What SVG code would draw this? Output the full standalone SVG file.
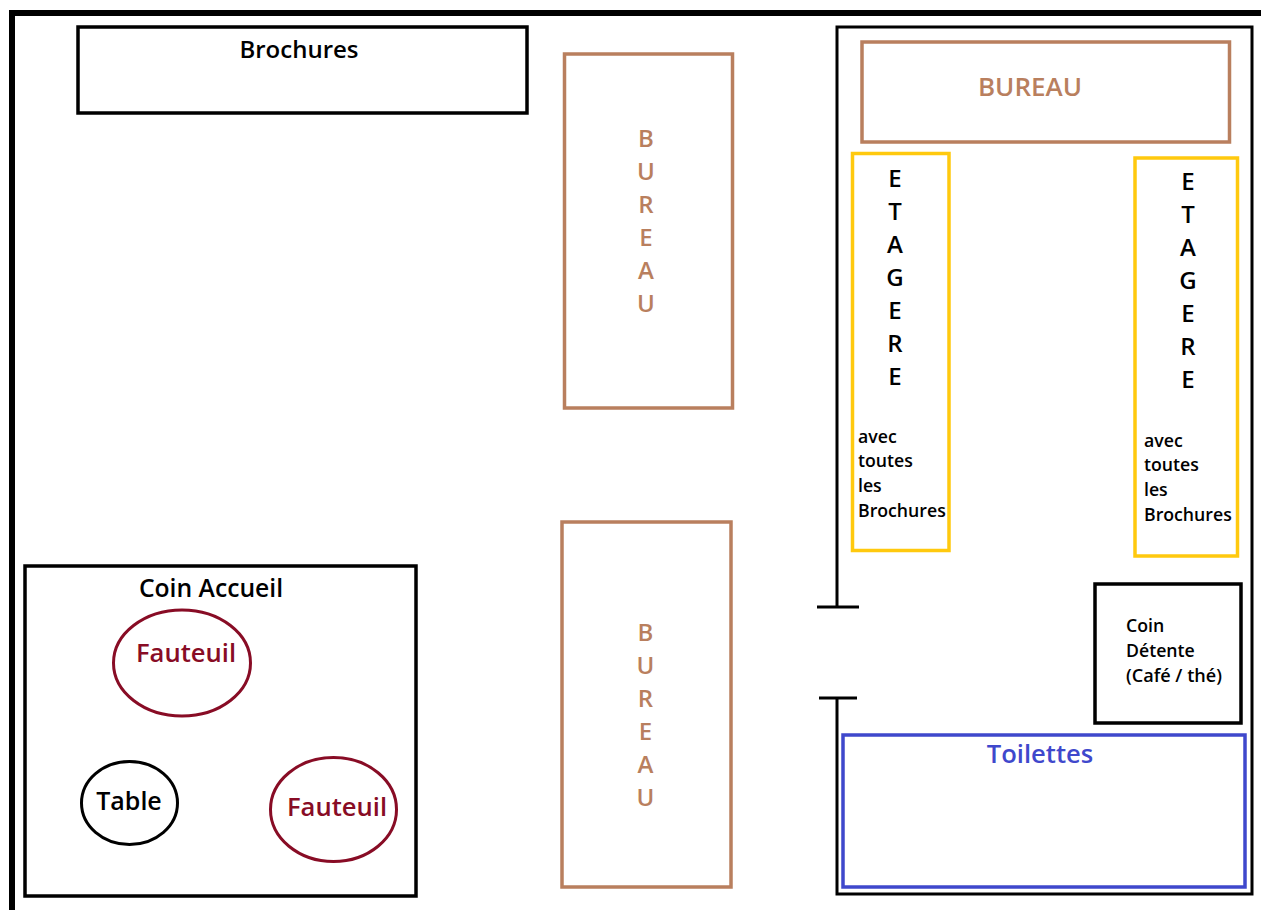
<svg xmlns="http://www.w3.org/2000/svg" width="1261" height="910" viewBox="0 0 1261 910">
<style>
text{font-family:"Open Sans","Noto Sans","Liberation Sans",sans-serif;font-weight:600;font-size:24px;fill:#000}
.m{text-anchor:middle}
.s{font-size:17.7px}
.l{font-size:25.6px}
.br{fill:#b97f5e}
.re{fill:#880c25}
.k{stroke:#000;stroke-width:3.5;fill:#fff}
.b{stroke:#b97f5e;stroke-width:3.5;fill:#fff}
.y{stroke:#ffc90e;stroke-width:3.5;fill:#fff}
.d{stroke:#880c25;stroke-width:3;fill:#fff}
.w{stroke:#000;stroke-width:3;fill:none}
</style>
<rect width="1261" height="910" fill="#fff"/>
<g id="connectors">
<path d="M12 910V13H1261" fill="none" stroke="#000" stroke-width="6"/>
<path class="w" d="M817 607H859M837 607V27H1252V894H837V698M819 698H857"/>
</g>
<g id="brochures"><rect class="k" x="78" y="27" width="449" height="86"/><text class="m" x="299" y="58">Brochures</text></g>
<g id="bureau-1"><rect class="b" x="564.500" y="54" width="168" height="354"/>
<text class="m br" x="646" y="146.500">B</text><text class="m br" x="646" y="179.500">U</text><text class="m br" x="646" y="213">R</text><text class="m br" x="646" y="246">E</text><text class="m br" x="646" y="279">A</text><text class="m br" x="646" y="312">U</text></g>
<g id="bureau-2"><rect class="b" x="562" y="522" width="169" height="365"/>
<text class="m br" x="645.500" y="640.500">B</text><text class="m br" x="645.500" y="673.500">U</text><text class="m br" x="645.500" y="707">R</text><text class="m br" x="645.500" y="740">E</text><text class="m br" x="645.500" y="773">A</text><text class="m br" x="645.500" y="806">U</text></g>
<g id="bureau-3"><rect class="b" x="862" y="42" width="367.500" height="100"/><text class="m br" x="1030" y="96" font-size="26" style="font-size:26px">BUREAU</text></g>
<g id="etagere-1"><rect class="y" x="852.500" y="153.500" width="96.500" height="397"/>
<text class="m" x="895" y="187">E</text><text class="m" x="895" y="220">T</text><text class="m" x="895" y="253">A</text><text class="m" x="895" y="286">G</text><text class="m" x="895" y="319">E</text><text class="m" x="895" y="352">R</text><text class="m" x="895" y="385">E</text>
<text class="s" x="858" y="443">avec</text><text class="s" x="858" y="467">toutes</text><text class="s" x="858" y="492">les</text><text class="s" x="858" y="516.500">Brochures</text></g>
<g id="etagere-2"><rect class="y" x="1135" y="158" width="102.500" height="398"/>
<text class="m" x="1188" y="190">E</text><text class="m" x="1188" y="223">T</text><text class="m" x="1188" y="256">A</text><text class="m" x="1188" y="289">G</text><text class="m" x="1188" y="322">E</text><text class="m" x="1188" y="355">R</text><text class="m" x="1188" y="388">E</text>
<text class="s" x="1144" y="447">avec</text><text class="s" x="1144" y="471">toutes</text><text class="s" x="1144" y="496">les</text><text class="s" x="1144" y="520.500">Brochures</text></g>
<g id="coin-detente"><rect class="k" x="1095" y="584" width="146" height="139"/><text class="s" x="1126" y="631.500">Coin</text><text class="s" x="1126" y="656.500">Détente</text><text x="1126" y="681.500" style="font-size:18.1px">(Café / thé)</text></g>
<g id="toilettes"><rect x="843" y="735" width="402" height="152" fill="#fff" stroke="#3f48cc" stroke-width="3.500"/><text class="m l" x="1040" y="763" style="fill:#3f48cc">Toilettes</text></g>
<g id="coin-accueil"><rect class="k" x="25" y="566" width="391" height="330"/><text class="m" x="211" y="597" style="font-size:24.700px">Coin Accueil</text></g>
<g id="fauteuil-1"><ellipse class="d" cx="182" cy="663" rx="68.500" ry="53"/><text class="m re l" x="186" y="662">Fauteuil</text></g>
<g id="table"><ellipse class="w" cx="129.500" cy="803" rx="48" ry="41.500"/><text class="m" x="129" y="810" style="font-size:25px">Table</text></g>
<g id="fauteuil-2"><ellipse class="d" cx="333.500" cy="809.500" rx="63" ry="52"/><text class="m re l" x="337" y="815.500">Fauteuil</text></g>
</svg>
